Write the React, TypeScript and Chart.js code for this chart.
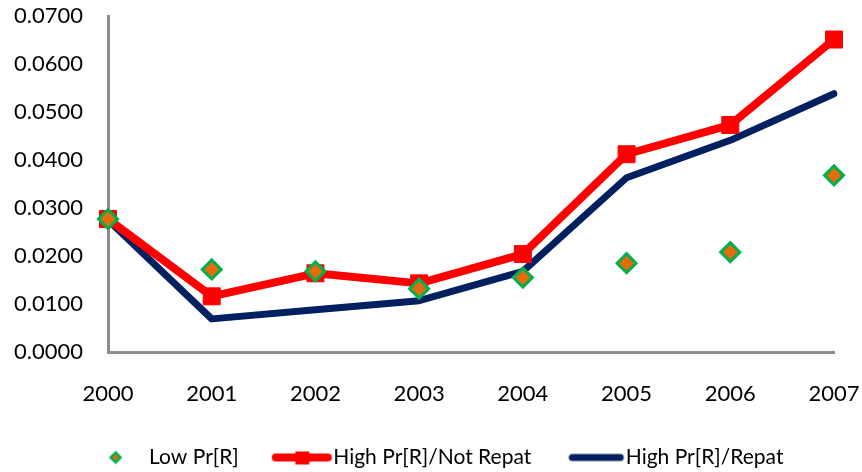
import React, { useEffect, useRef } from "react";
import { Chart, registerables } from "chart.js";

Chart.register(...registerables);

const years = ["2000", "2001", "2002", "2003", "2004", "2005", "2006", "2007"];
const lowPrR = [0.0277, 0.0172, 0.0168, 0.0132, 0.0155, 0.0185, 0.0208, 0.0368];
const highNotRepat = [0.0277, 0.0116, 0.0164, 0.0143, 0.0204, 0.0412, 0.0473, 0.0651];
const highRepat = [0.0275, 0.0069, 0.0088, 0.0107, 0.0168, 0.0363, 0.0441, 0.0538];
const seriesNames = ["Low Pr[R]", "High Pr[R]/Not Repat", "High Pr[R]/Repat"];

const ORANGE = "#E46C0A";
const GREEN = "#00B050";
const RED = "#FF0000";
const NAVY = "#002060";
const AXIS = "#8C8C8C";
const FONT = "Lato, 'Liberation Sans', sans-serif";

function makeIcon(kind: string): HTMLCanvasElement {
  const c = document.createElement("canvas");
  c.width = 100;
  c.height = 24;
  const ctx = c.getContext("2d")!;
  const cy = 12;
  if (kind === "diamond") {
    const cx = 67;
    const r = 5;
    ctx.beginPath();
    ctx.moveTo(cx, cy - r);
    ctx.lineTo(cx + r, cy);
    ctx.lineTo(cx, cy + r);
    ctx.lineTo(cx - r, cy);
    ctx.closePath();
    ctx.fillStyle = ORANGE;
    ctx.fill();
    ctx.lineWidth = 2.5;
    ctx.strokeStyle = GREEN;
    ctx.stroke();
  } else if (kind === "red") {
    ctx.beginPath();
    ctx.moveTo(43, cy);
    ctx.lineTo(95, cy);
    ctx.lineWidth = 8;
    ctx.strokeStyle = RED;
    ctx.lineCap = "round";
    ctx.stroke();
    ctx.fillStyle = RED;
    ctx.fillRect(69.5 - 7, cy - 6, 14, 13);
  } else {
    ctx.beginPath();
    ctx.moveTo(47, cy);
    ctx.lineTo(95, cy);
    ctx.lineWidth = 7;
    ctx.strokeStyle = NAVY;
    ctx.lineCap = "round";
    ctx.stroke();
  }
  return c;
}

export default function App() {
  const ref = useRef<HTMLCanvasElement>(null);

  useEffect(() => {
    if (!ref.current) return;
    const icons = [makeIcon("diamond"), makeIcon("red"), makeIcon("navy")];
    const chart = new Chart(ref.current, {
      type: "line",
      data: {
        labels: years,
        datasets: [
          {
            label: seriesNames[0],
            data: lowPrR,
            showLine: false,
            pointStyle: "rectRot",
            pointRadius: 9.5,
            pointBackgroundColor: ORANGE,
            pointBorderColor: GREEN,
            pointBorderWidth: 3,
            backgroundColor: ORANGE,
            borderColor: GREEN,
          },
          {
            label: seriesNames[1],
            data: highNotRepat,
            borderColor: RED,
            backgroundColor: RED,
            borderWidth: 8,
            pointStyle: "rect",
            pointRadius: 12,
            pointBackgroundColor: RED,
            pointBorderColor: RED,
            pointBorderWidth: 1,
            borderJoinStyle: "round",
            tension: 0,
          },
          {
            label: seriesNames[2],
            data: highRepat,
            borderColor: NAVY,
            backgroundColor: NAVY,
            borderWidth: 7,
            pointRadius: 0,
            borderCapStyle: "round",
            borderJoinStyle: "round",
            tension: 0,
          },
        ],
      },
      options: {
        animation: false,
        responsive: false,
        maintainAspectRatio: false,
        layout: { padding: { top: 16, right: 28, left: 8, bottom: -6 } },
        plugins: {
          tooltip: { enabled: false },
          legend: {
            position: "bottom",
            labels: {
              usePointStyle: true,
              pointStyleWidth: 80,
              padding: 4,
              color: "#000",
              font: { family: FONT, size: 21 },
              generateLabels: () =>
                seriesNames.map((name, i) => ({
                  text: name,
                  pointStyle: icons[i] as any,
                  datasetIndex: i,
                  fillStyle: "transparent",
                  strokeStyle: "transparent",
                  lineWidth: 0,
                  hidden: false,
                })),
            },
          },
        },
        scales: {
          x: {
            offset: false,
            grid: { display: false, drawTicks: false },
            border: { display: true, color: AXIS, width: 3 },
            ticks: {
              color: "#000",
              font: { family: FONT, size: 22 },
              padding: 29,
              maxRotation: 0,
            },
            afterFit: (s: any) => {
              s.height = 91;
              s.paddingLeft = 0;
              s.paddingRight = 0;
            },
          },
          y: {
            min: 0,
            max: 0.07,
            grid: { display: false, drawTicks: false },
            border: { display: true, color: AXIS, width: 3 },
            ticks: {
              stepSize: 0.01,
              color: "#000",
              font: { family: FONT, size: 22 },
              padding: 25,
              callback: (v: any) => Number(v).toFixed(4),
            },
            afterFit: (s: any) => {
              s.width = 100;
              s.paddingTop = 0;
              s.paddingBottom = 0;
            },
          },
        },
      },
    });
    return () => chart.destroy();
  }, []);

  return (
    <div style={{ position: "fixed", left: 0, top: 0, width: 862, height: 472, background: "#fff" }}>
      <canvas ref={ref} width={862} height={472} style={{ width: 862, height: 472, display: "block" }} />
    </div>
  );
}
